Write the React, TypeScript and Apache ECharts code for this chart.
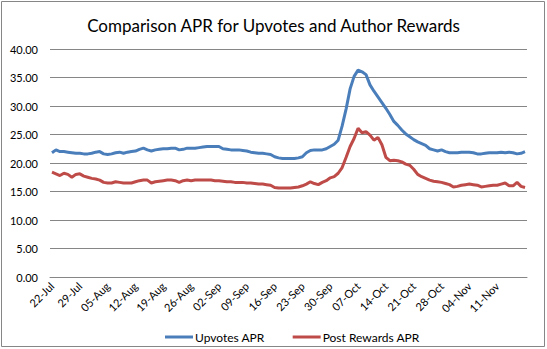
import React, { useEffect, useRef } from "react";
import * as echarts from "echarts";

const upvotesAPR: number[] = [
  21.8, 22.3, 22.0, 22.0, 21.9, 21.8, 21.7, 21.7, 21.6, 21.6,
  21.7, 21.9, 22.0, 21.6, 21.5, 21.6, 21.8, 21.9, 21.7, 21.9,
  22.0, 22.1, 22.4, 22.6, 22.3, 22.1, 22.3, 22.4, 22.5, 22.5,
  22.6, 22.6, 22.3, 22.4, 22.6, 22.6, 22.6, 22.7, 22.8, 22.9,
  22.9, 22.9, 22.9, 22.5, 22.4, 22.3, 22.3, 22.3, 22.2, 22.1,
  21.9, 21.8, 21.7, 21.7, 21.6, 21.5, 21.1, 20.9, 20.8, 20.8,
  20.8, 20.8, 20.9, 21.1, 21.8, 22.2, 22.3, 22.3, 22.3, 22.5,
  22.9, 23.3, 24.0, 26.5, 29.5, 33.0, 35.2, 36.3, 36.0, 35.5,
  33.7, 32.6, 31.6, 30.6, 29.6, 28.5, 27.3, 26.6, 25.8, 25.1,
  24.6, 24.1, 23.7, 23.4, 23.1, 22.5, 22.3, 22.1, 22.3, 22.0,
  21.8, 21.8, 21.8, 21.9, 21.9, 21.9, 21.8, 21.6, 21.6, 21.7,
  21.8, 21.8, 21.8, 21.9, 21.8, 21.9, 21.8, 21.6, 21.7, 22.0,
];

const postRewardsAPR: number[] = [
  18.4, 18.1, 17.8, 18.2, 18.0, 17.5, 18.0, 18.1, 17.7, 17.5,
  17.3, 17.2, 17.0, 16.6, 16.5, 16.5, 16.7, 16.6, 16.5, 16.5,
  16.5, 16.7, 16.9, 17.0, 17.0, 16.5, 16.7, 16.8, 16.9, 17.0,
  17.0, 16.9, 16.6, 16.9, 17.0, 16.9, 17.0, 17.0, 17.0, 17.0,
  17.0, 16.9, 16.9, 16.8, 16.7, 16.7, 16.6, 16.6, 16.6, 16.5,
  16.5, 16.4, 16.3, 16.3, 16.2, 16.1, 15.7, 15.6, 15.6, 15.6,
  15.6, 15.7, 15.8, 16.0, 16.3, 16.7, 16.4, 16.2, 16.6, 16.9,
  17.4, 17.6, 18.2, 19.2, 21.0, 22.9, 24.3, 26.1, 25.3, 25.5,
  24.9, 24.0, 24.5, 23.2, 21.0, 20.4, 20.5, 20.4, 20.2, 19.8,
  19.6, 18.9, 18.0, 17.6, 17.3, 17.0, 16.8, 16.7, 16.6, 16.4,
  16.2, 15.8, 15.9, 16.1, 16.2, 16.3, 16.2, 16.1, 15.8, 15.9,
  16.0, 16.1, 16.1, 16.3, 16.5, 16.0, 16.0, 16.6, 15.9, 15.7,
];

const months = ["Jan", "Feb", "Mar", "Apr", "May", "Jun", "Jul", "Aug", "Sep", "Oct", "Nov", "Dec"];
const startDate = new Date(2016, 6, 22);
const dateLabels: string[] = upvotesAPR.map((_, i) => {
  const d = new Date(startDate.getFullYear(), startDate.getMonth(), startDate.getDate() + i);
  const dd = String(d.getDate()).padStart(2, "0");
  return `${dd}-${months[d.getMonth()]}`;
});
const lastShownLabel = "11-Nov";

const titleText = "Comparison APR for Upvotes and Author Rewards";
const seriesNames = ["Upvotes APR", "Post Rewards APR"];
const FONT = "Lato, 'Open Sans', sans-serif";

export default function App() {
  const ref = useRef<HTMLDivElement>(null);
  useEffect(() => {
    if (!ref.current) return;
    const chart = echarts.init(ref.current, undefined, { renderer: "svg" });
    const lastIdx = dateLabels.indexOf(lastShownLabel);
    chart.setOption({
      animation: false,
      backgroundColor: "#ffffff",
      textStyle: { fontFamily: FONT },
      title: {
        text: titleText,
        left: "center",
        top: 12,
        textStyle: { fontFamily: FONT, fontSize: 17, fontWeight: "normal", color: "#000" },
      },
      graphic: [
        {
          type: "rect",
          shape: { x: 1.5, y: 1.5, width: 543, height: 345 },
          style: { fill: "none", stroke: "#868686", lineWidth: 1 },
          silent: true,
        },
      ],
      legend: {
        bottom: 1,
        left: 160,
        icon: "rect",
        itemWidth: 28,
        itemHeight: 3,
        itemGap: 28,
        textStyle: { fontFamily: FONT, fontSize: 12, color: "#000", padding: [0, 0, 0, -3] },
        data: seriesNames,
      },
      grid: { left: 50, right: 20, top: 49, bottom: 72, containLabel: false },
      xAxis: {
        type: "category",
        data: dateLabels,
        boundaryGap: true,
        axisLine: { show: true, lineStyle: { color: "#868686", width: 1 } },
        axisTick: { show: false },
        axisLabel: {
          interval: (i: number) => i % 7 === 0 && i <= lastIdx,
          rotate: 45,
          fontSize: 11,
          color: "#000",
          fontFamily: FONT,
          margin: 7,
        },
      },
      yAxis: {
        type: "value",
        min: 0,
        max: 40,
        interval: 5,
        axisLine: { show: false },
        axisTick: { show: false },
        splitLine: { lineStyle: { color: "#868686", width: 1 } },
        axisLabel: {
          formatter: (v: number) => v.toFixed(2),
          fontSize: 11,
          color: "#000",
          fontFamily: FONT,
          margin: 12,
        },
      },
      series: [
        {
          name: seriesNames[0],
          type: "line",
          data: upvotesAPR,
          symbol: "none",
          lineStyle: { color: "#4A7EBB", width: 3 },
          itemStyle: { color: "#4A7EBB" },
        },
        {
          name: seriesNames[1],
          type: "line",
          data: postRewardsAPR,
          symbol: "none",
          lineStyle: { color: "#BE4B48", width: 3 },
          itemStyle: { color: "#BE4B48" },
        },
      ],
    });
    return () => chart.dispose();
  }, []);
  return (
    <div style={{ position: "absolute", left: 0, top: 0, width: 547, height: 349 }}>
      <div ref={ref} style={{ width: 547, height: 349 }} />
    </div>
  );
}
